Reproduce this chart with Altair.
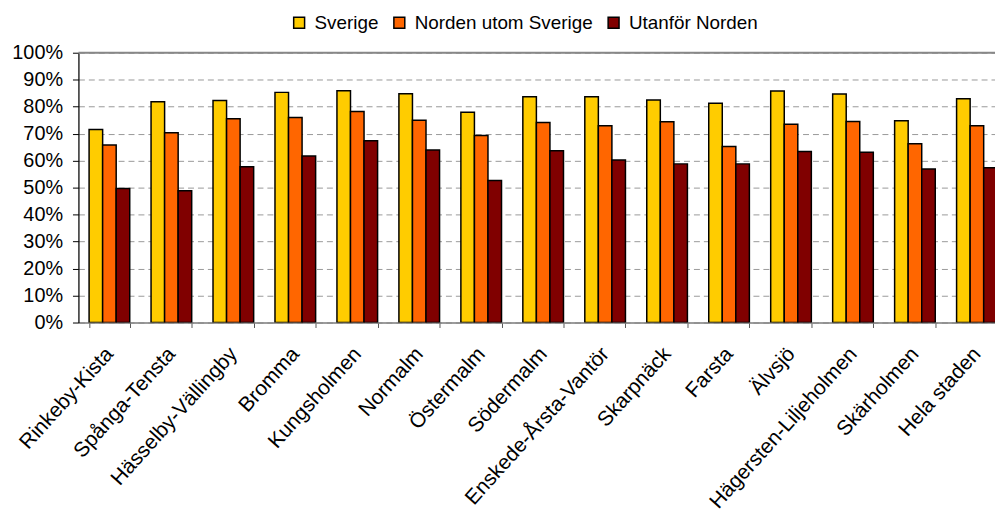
import altair as alt
import pandas as pd

categories = ["Rinkeby-Kista", "Spånga-Tensta", "Hässelby-Vällingby", "Bromma",
              "Kungsholmen", "Normalm", "Östermalm", "Södermalm",
              "Enskede-Årsta-Vantör", "Skarpnäck", "Farsta", "Älvsjö",
              "Hägersten-Liljeholmen", "Skärholmen", "Hela staden"]
series = ["Sverige", "Norden utom Sverige", "Utanför Norden"]
sverige = [71.5, 81.8, 82.3, 85.3, 85.9, 84.8, 77.9, 83.7, 83.7, 82.5, 81.3, 85.8, 84.7, 74.8, 82.9]
norden = [65.8, 70.3, 75.5, 76.0, 78.2, 75.0, 69.3, 74.1, 72.9, 74.4, 65.2, 73.5, 74.5, 66.3, 72.9]
utanfor = [49.7, 48.8, 57.7, 61.7, 67.4, 63.9, 52.6, 63.7, 60.2, 58.8, 58.8, 63.4, 63.1, 56.9, 57.4]
colors = ["#FFCC00", "#FF6600", "#800000"]
y_ticks = [0, 0.1, 0.2, 0.3, 0.4, 0.5, 0.6, 0.7, 0.8, 0.9, 1.0]

rows = []
for vals, s in zip([sverige, norden, utanfor], series):
    for c, v in zip(categories, vals):
        rows.append({"Område": c, "Grupp": s, "Andel": v / 100})
df = pd.DataFrame(rows)

FONT = "Liberation Sans"

y_axis = alt.Axis(values=y_ticks, format=".0%", labelOverlap=False, labelLimit=0,
                  labelFontSize=20, labelFont=FONT, labelColor="black",
                  labelPadding=10, tickSize=6, tickColor="black",
                  domainColor="black", domainWidth=1.2,
                  grid=True, gridDash=[6, 4], gridColor="#999999", gridWidth=1)
y_scale = alt.Scale(domain=[0, 1], nice=False)

bars = alt.Chart(df).mark_bar(stroke="black", strokeWidth=1.5, clip=True).encode(
    x=alt.X("Område:N", sort=categories, title=None,
            scale=alt.Scale(range=[0, 937], paddingInner=0.344, paddingOuter=0.172),
            axis=alt.Axis(labelAngle=-48, labelAlign="right", labelBaseline="middle",
                          labelFontSize=21, labelFont=FONT, labelColor="black",
                          labelPadding=23, labelLimit=0, tickBand="extent", tickSize=5,
                          tickColor="#555555", domainColor="#808080", domainWidth=1.5,
                          grid=False, labelOverlap=False)),
    xOffset=alt.XOffset("Grupp:N", sort=series,
                        scale=alt.Scale(paddingInner=0, paddingOuter=0)),
    y=alt.Y("Andel:Q", title=None, scale=y_scale, axis=y_axis),
    color=alt.Color("Grupp:N", sort=series, title=None,
                    scale=alt.Scale(domain=series, range=colors),
                    legend=alt.Legend(orient="none", direction="horizontal",
                                      legendX=213, legendY=-40, labelLimit=0,
                                      symbolType="square", symbolSize=121,
                                      symbolStrokeColor="black", symbolStrokeWidth=1.5,
                                      labelFontSize=19, labelFont=FONT, labelColor="black",
                                      labelOffset=6, columnPadding=11)),
)

top_line = alt.Chart(pd.DataFrame({"y": [1.0]})).mark_rule(color="#888888", strokeWidth=2).encode(
    y=alt.Y("y:Q", title=None, scale=y_scale, axis=y_axis)
)

chart = alt.layer(bars, top_line).properties(
    width=924, height=272,
    autosize=alt.AutoSizeParams(type="none"),
    padding={"left": 71, "top": 43, "right": 0, "bottom": 197},
).configure_view(stroke=None).configure(background="white")

chart.save("out.html", embed_options={"renderer": "svg", "actions": False})
